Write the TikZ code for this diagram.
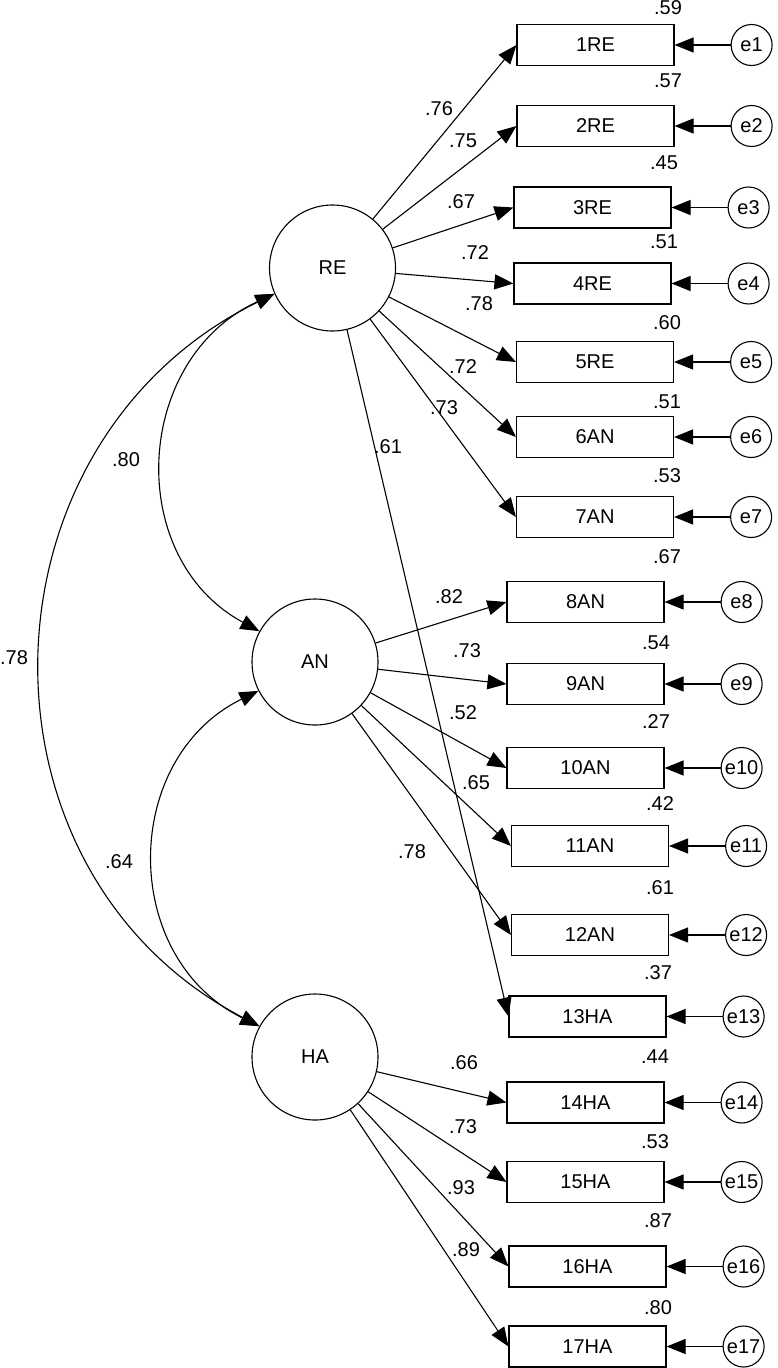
\documentclass[tikz,border=0pt]{standalone}
\usepackage{fontspec}
\setmainfont{Liberation Sans}
\usetikzlibrary{arrows.meta, positioning}

\begin{document}
\begin{tikzpicture}[x=1pt, y=-1pt, line width=1.1pt, font=\fontsize{20}{24}\selectfont]
        \tikzset{
            latent/.style={draw, circle, minimum size=126pt, inner sep=0pt},
            item/.style={draw, minimum width=157pt, minimum height=41pt, inner sep=0pt},
            errnode/.style={draw, circle, minimum size=41pt, inner sep=0pt},
            coef/.style={inner sep=0pt},
            load/.style={-{Triangle[length=19pt, width=15pt]}},
            cov/.style={{Triangle[length=19pt, width=15pt]}-{Triangle[length=19pt, width=15pt]}}
        }
        \useasboundingbox (0,0) rectangle (777,1368);

        % --- LATENT FACTORS ---
        \node[latent] (RE) at (332.5,268) {RE};
        \node[latent] (AN) at (315,662) {AN};
        \node[latent] (HA) at (315,1057) {HA};

        % --- ITEMS ---
        \node[item] (i1) at (595.5,45) {1RE};
        \node[item] (i2) at (595.5,126) {2RE};
        \node[item] (i3) at (592.5,207.5) {3RE};
        \node[item] (i4) at (592.5,283.5) {4RE};
        \node[item] (i5) at (595,362) {5RE};
        \node[item] (i6) at (595,437) {6AN};
        \node[item] (i7) at (595,517) {7AN};
        \node[item] (i8) at (585.5,602) {8AN};
        \node[item] (i9) at (585.5,684) {9AN};
        \node[item] (i10) at (585.5,768) {10AN};
        \node[item] (i11) at (590,846) {11AN};
        \node[item] (i12) at (590,935) {12AN};
        \node[item] (i13) at (587.5,1016.5) {13HA};
        \node[item] (i14) at (585.5,1102.5) {14HA};
        \node[item] (i15) at (585.5,1182) {15HA};
        \node[item] (i16) at (587.5,1266.5) {16HA};
        \node[item] (i17) at (587.5,1346.5) {17HA};

        % --- ERRORS ---
        \node[errnode, right=56pt of i1] (e1) {e1};
        \node[errnode, right=56pt of i2] (e2) {e2};
        \node[errnode, right=56pt of i3] (e3) {e3};
        \node[errnode, right=56pt of i4] (e4) {e4};
        \node[errnode, right=56pt of i5] (e5) {e5};
        \node[errnode, right=56pt of i6] (e6) {e6};
        \node[errnode, right=56pt of i7] (e7) {e7};
        \node[errnode, right=56pt of i8] (e8) {e8};
        \node[errnode, right=56pt of i9] (e9) {e9};
        \node[errnode, right=56pt of i10] (e10) {e10};
        \node[errnode, right=56pt of i11] (e11) {e11};
        \node[errnode, right=56pt of i12] (e12) {e12};
        \node[errnode, right=56pt of i13] (e13) {e13};
        \node[errnode, right=56pt of i14] (e14) {e14};
        \node[errnode, right=56pt of i15] (e15) {e15};
        \node[errnode, right=56pt of i16] (e16) {e16};
        \node[errnode, right=56pt of i17] (e17) {e17};

        % --- SQUARED MULTIPLE CORRELATIONS ---
        \node[coef] (r1) at (668,8) {.59};
        \node[coef] (r2) at (668,81) {.57};
        \node[coef] (r3) at (664,163) {.45};
        \node[coef] (r4) at (664,242) {.51};
        \node[coef] (r5) at (667,323) {.60};
        \node[coef] (r6) at (667,402) {.51};
        \node[coef] (r7) at (667,476) {.53};
        \node[coef] (r8) at (667,557) {.67};
        \node[coef] (r9) at (656,643) {.54};
        \node[coef] (r10) at (656,722) {.27};
        \node[coef] (r11) at (660,804) {.42};
        \node[coef] (r12) at (660,888) {.61};
        \node[coef] (r13) at (658,973) {.37};
        \node[coef] (r14) at (655,1057) {.44};
        \node[coef] (r15) at (655,1142) {.53};
        \node[coef] (r16) at (658,1221) {.87};
        \node[coef] (r17) at (658,1308) {.80};

        % Loadings RE
        \draw[load] (RE) -- (i1.west);
        \draw[load] (RE) -- (i2.west);
        \draw[load] (RE) -- (i3.west);
        \draw[load] (RE) -- (i4.west);
        \draw[load] (RE) -- (i5.west);
        \draw[load] (RE) -- (i6.west);
        \draw[load] (RE) -- (i7.west);
        \draw[load] (RE) -- (i13.west);

        % Loadings AN
        \draw[load] (AN) -- (i8.west);
        \draw[load] (AN) -- (i9.west);
        \draw[load] (AN) -- (i10.west);
        \draw[load] (AN) -- (i11.west);
        \draw[load] (AN) -- (i12.west);

        % Loadings HA
        \draw[load] (HA) -- (i14.west);
        \draw[load] (HA) -- (i15.west);
        \draw[load] (HA) -- (i16.west);
        \draw[load] (HA) -- (i17.west);

        % Loading values
        \node[coef] (l1) at (439,109) {.76};
        \node[coef] (l2) at (463,141) {.75};
        \node[coef] (l3) at (461,202) {.67};
        \node[coef] (l4) at (475,253) {.72};
        \node[coef] (l5) at (479,304) {.78};
        \node[coef] (l6) at (463,367) {.72};
        \node[coef] (l7) at (444,408) {.73};
        \node[coef] (l8) at (449,597) {.82};
        \node[coef] (l9) at (467,651) {.73};
        \node[coef] (l10) at (463,713) {.52};
        \node[coef] (l11) at (476,783) {.65};
        \node[coef] (l12) at (412,852) {.78};
        \node[coef] (l13) at (388,447) {.61};
        \node[coef] (l14) at (464,1063) {.66};
        \node[coef] (l15) at (463,1127) {.73};
        \node[coef] (l16) at (461,1188) {.93};
        \node[coef] (l17) at (466,1250) {.89};

        % Error arrows
        \draw[load] (e1) -- (i1);
        \draw[load] (e2) -- (i2);
        \draw[load] (e3) -- (i3);
        \draw[load] (e4) -- (i4);
        \draw[load] (e5) -- (i5);
        \draw[load] (e6) -- (i6);
        \draw[load] (e7) -- (i7);
        \draw[load] (e8) -- (i8);
        \draw[load] (e9) -- (i9);
        \draw[load] (e10) -- (i10);
        \draw[load] (e11) -- (i11);
        \draw[load] (e12) -- (i12);
        \draw[load] (e13) -- (i13);
        \draw[load] (e14) -- (i14);
        \draw[load] (e15) -- (i15);
        \draw[load] (e16) -- (i16);
        \draw[load] (e17) -- (i17);

        % Covariances
        \draw[cov] (RE.204) .. controls (133,359) and (124,558) .. (AN.151);
        \draw[cov] (AN.207) .. controls (120,759) and (120,958) .. (HA.151);
        \draw[cov] (RE.204) .. controls (-28,442) and (-38,871) .. (HA.151);
        \node[coef] (c1) at (126,460) {.80};
        \node[coef] (c2) at (14,658) {.78};
        \node[coef] (c3) at (119,862) {.64};

    \end{tikzpicture}
\end{document}
